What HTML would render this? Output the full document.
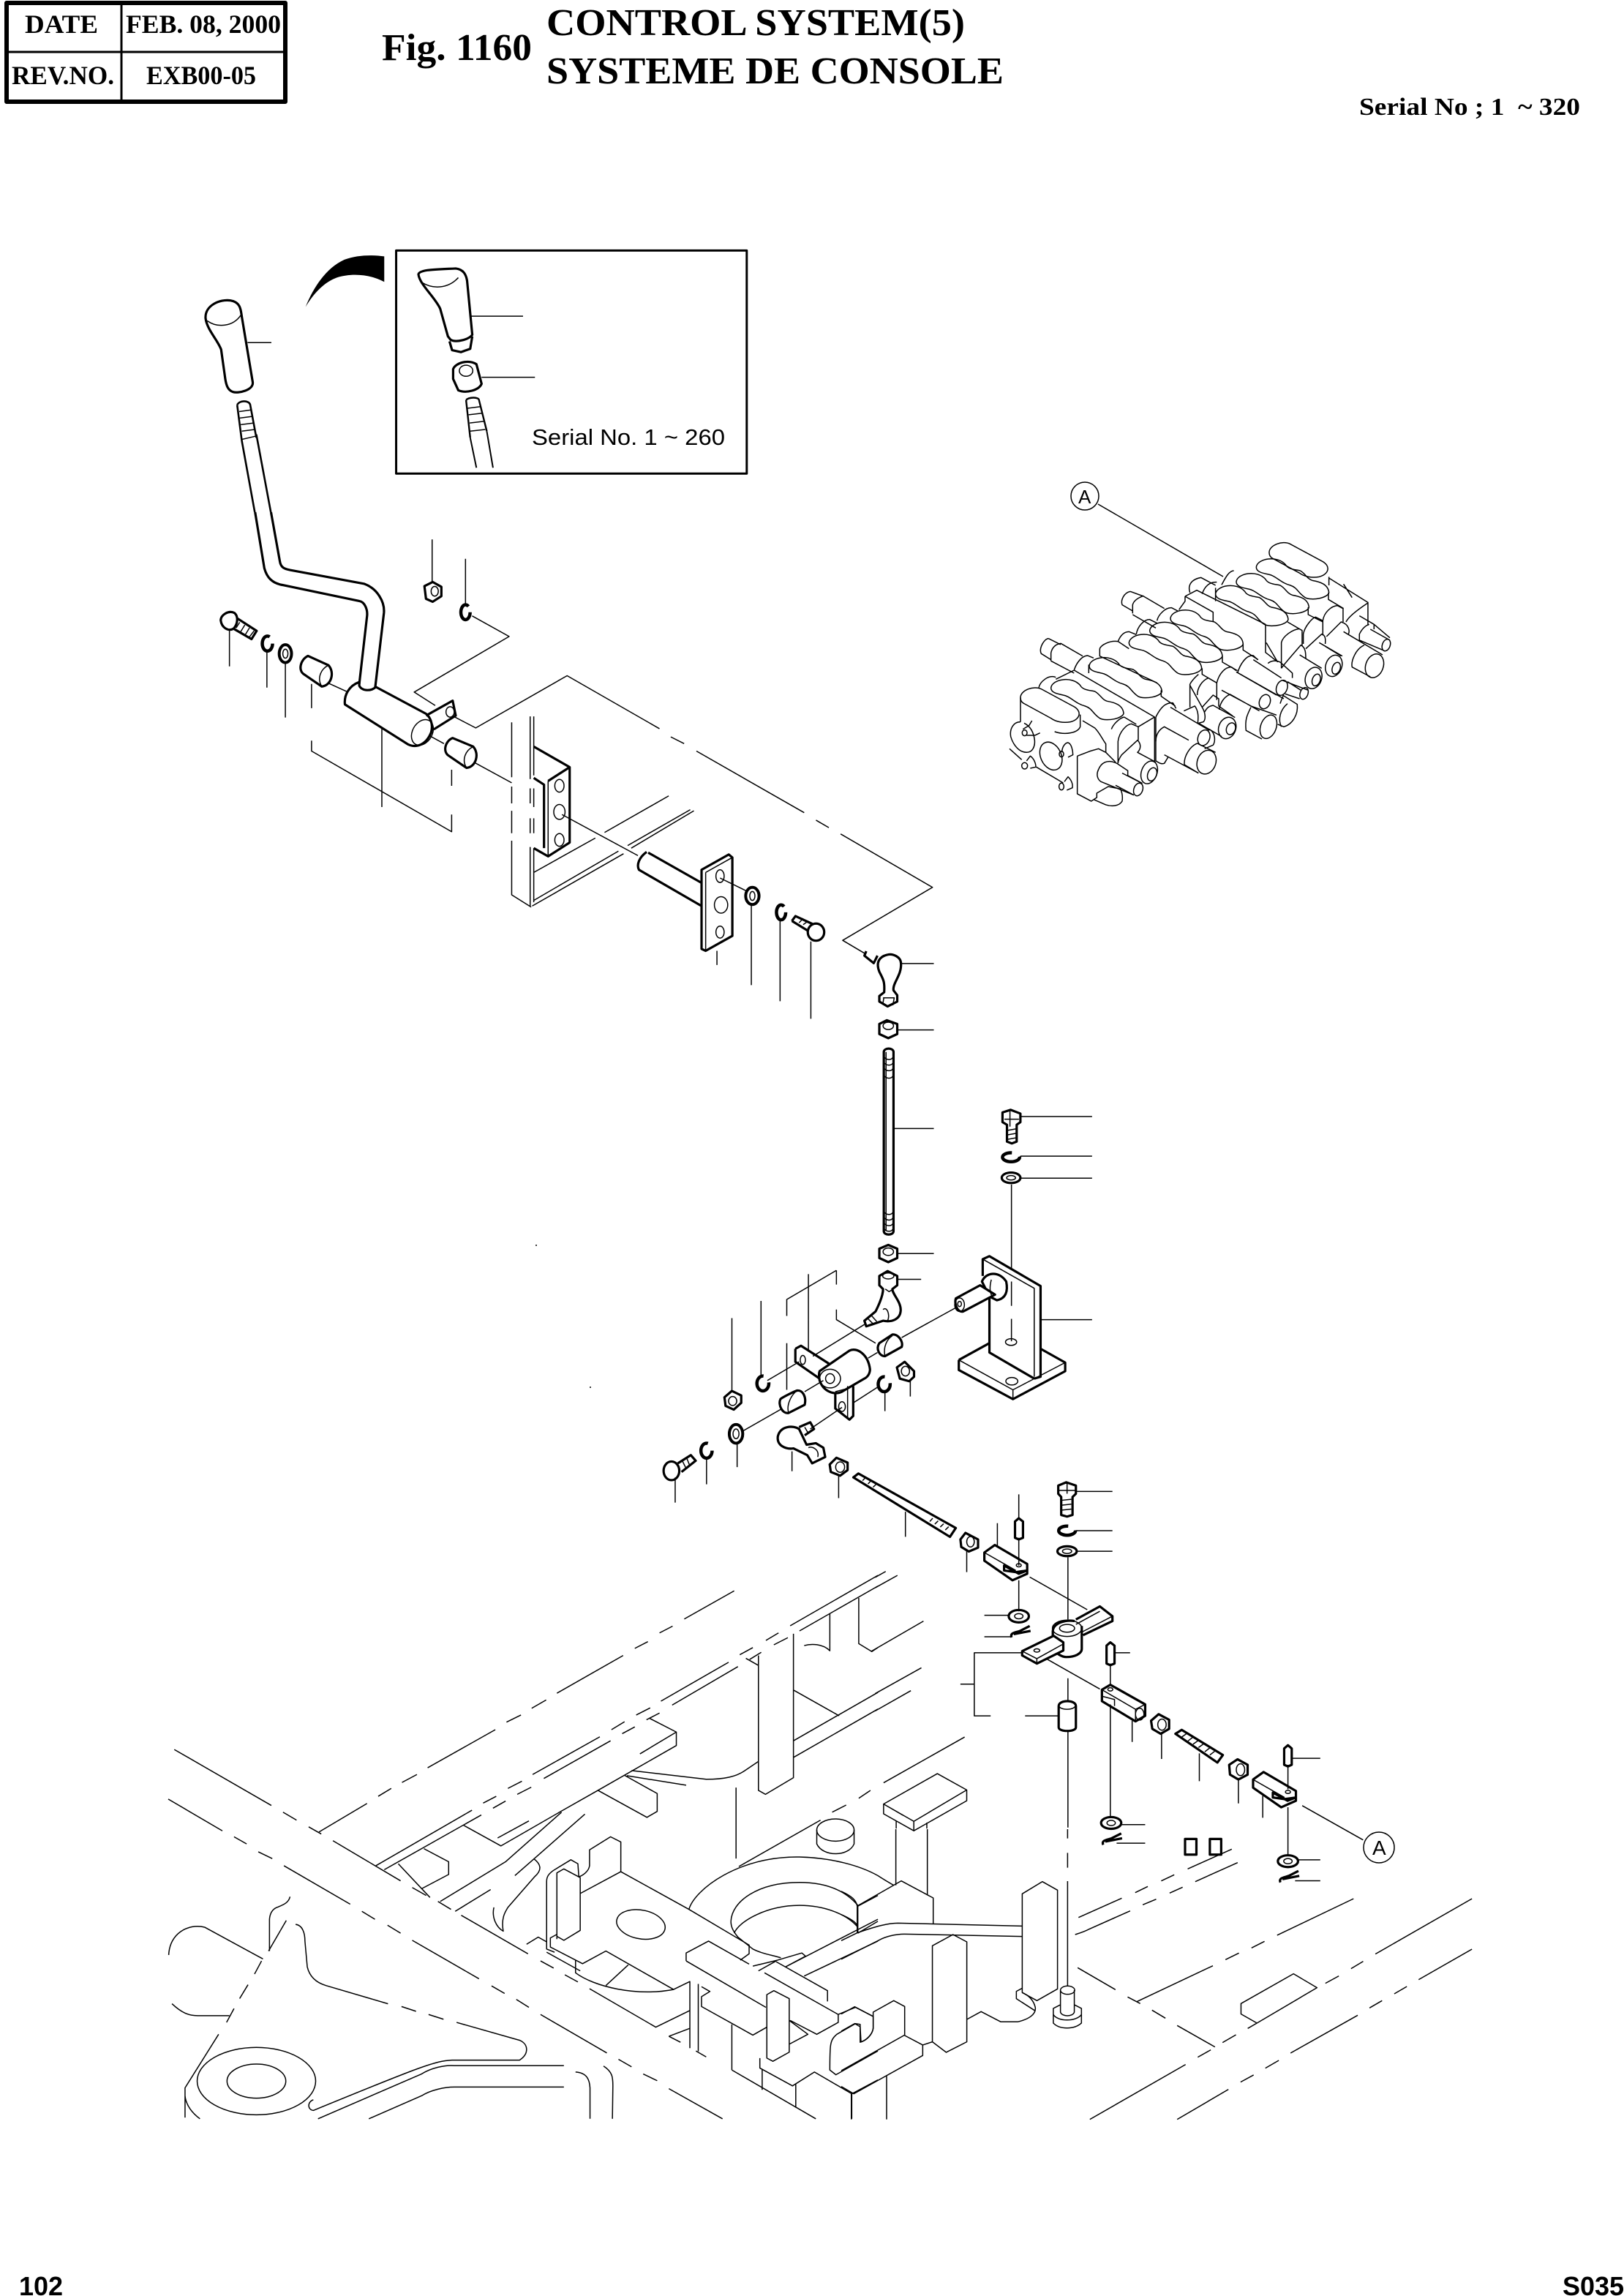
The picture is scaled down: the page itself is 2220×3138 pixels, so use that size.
<!DOCTYPE html>
<html><head><meta charset="utf-8"><style>
html,body{margin:0;padding:0;background:#fff}
svg{display:block}
svg *{vector-effect:non-scaling-stroke}
g,path,ellipse,rect{fill:none;stroke:#000;stroke-width:1.5;stroke-linecap:butt;stroke-linejoin:round}
.k,.k *{stroke-width:3.2}
.k .c{stroke-width:4.5;stroke-dasharray:44 12}
.k .w{stroke-width:4}
.f{fill:#fff}
.b{fill:#000;stroke:none}
text{stroke:none;fill:#000}
.s{font-family:"Liberation Serif",serif;font-weight:bold}
.a{font-family:"Liberation Sans",sans-serif}
</style></head><body>
<svg xmlns="http://www.w3.org/2000/svg" width="2220" height="3138" viewBox="0 0 2220 3138">
<rect x="0" y="0" width="2220" height="3138" style="fill:#fff;stroke:none"/>

<!-- background frame, left -->
<g transform="translate(200,2100) scale(.6378,.5421)">
<path d="M370,745L473,673M497,655L525,635M548,620L580,600M603,583L748,487M772,468L803,450M826,433L857,412M880,395L1022,300M1047,282L1075,265M1100,243L1128,226M1153,208L1260,137"/>
<path d="M1380,225L1568,98M1400,238L1568,125"/>
<path d="M492,830L698,690M722,672L750,655M775,635L805,617M828,600L972,505M997,487L1025,467M1050,450L1080,432M1103,415L1248,317M1272,298L1300,280M1328,262L1355,243"/>
<path d="M510,840L718,702M743,685L770,667M795,650L825,632M852,610L995,515M1020,497L1047,480M1072,462L1100,445M1127,425L1268,328M1293,310L1318,292M1345,273L1375,255"/>
<path d="M1078,458L1136,493V527L968,640L890,692L760,780L680,728M1136,493L1058,548M753,760L820,717"/>
<path d="M1040,590L1200,612C1240,612 1265,605 1283,590L1312,567M1030,603L1157,627M1025,602L1095,648V693L1073,708L968,640"/>
<path d="M940,700L790,855M890,695L770,820L630,920M738,890L662,945M595,787L648,820V852L590,888M540,825L608,910"/>
<path d="M60,537L268,678M293,695L322,715M348,732L375,750M400,767L545,868M570,885L600,905M625,920L653,940M675,955L818,1052M845,1070L873,1088M897,1105L925,1123M950,1140L1092,1237L1165,1195M1120,1260L1165,1240M1120,1260L1145,1275M1178,1297L1200,1312M1255,1345L1435,1468"/>
<path d="M47,662L163,742M188,757L215,775M240,795L270,812M295,830L437,927M462,945L490,965M517,980L545,1000M570,1018L713,1115M740,1133L768,1152M793,1167L820,1187M845,1205L987,1302M1012,1318L1040,1337M1065,1355L1095,1372M1120,1392L1235,1468"/>
<path d="M308,908C305,925 290,930 280,935C270,940 265,950 264,965V1045"/>
<path d="M300,968L262,1045M247,1070L232,1103M218,1130L200,1165M188,1190L172,1225M155,1255L83,1390V1465M83,1410C85,1435 100,1455 115,1468"/>
<path d="M48,1055C50,1000 90,975 125,985L250,1065M55,1178C75,1200 90,1208 110,1208H178"/>
<path d="M320,978C335,980 340,1000 340,1020L345,1085C350,1110 365,1125 385,1132L518,1178M547,1185L578,1197M605,1205L637,1217M665,1225L800,1270C820,1280 820,1305 800,1320H655C620,1322 590,1335 358,1447C345,1445 345,1425 358,1420"/>
<ellipse cx="236" cy="1373" rx="127" ry="85"/>
<ellipse cx="236" cy="1373" rx="63" ry="43"/>
<path d="M368,1468L590,1355C610,1340 640,1332 660,1334H895M477,1468L590,1410C610,1395 640,1388 660,1388H895"/>
<path d="M920,1350C945,1352 950,1370 951,1390V1468M980,1335C1000,1350 1000,1365 1000,1385L999,1468"/>
<path d="M745,935C740,960 750,985 765,995C760,960 770,945 775,935L832,858C850,840 845,825 830,812"/>
<path d="M1017,845V770L995,757L950,790V830C948,845 935,855 927,858L925,825L910,815L878,838C860,850 858,860 858,870V1040L875,1048"/>
<path d="M880,1015V848L895,838L930,860V993L895,1018L880,1008"/>
<path d="M880,1003L866,1012V1035L935,1077L985,1045L1130,1142"/>
<path d="M930,900L1017,845L1163,940L1292,1030V1052L1273,1068"/>
<path d="M1163,940C1175,890 1270,805 1400,808C1470,810 1530,830 1568,855"/>
<path d="M1270,832L1445,715M1470,695L1500,677M1527,660L1552,640"/>
<ellipse cx="1477" cy="740" rx="40" ry="28"/>
<path d="M1437,740V775C1450,808 1505,808 1517,775V740"/>
<path d="M1253,970C1255,920 1310,872 1400,872C1460,872 1500,895 1525,930M1260,1000C1270,970 1330,930 1400,930C1450,930 1500,950 1525,985M1253,970C1253,985 1258,995 1268,1010L1300,1040C1320,1052 1340,1055 1360,1062M1525,930V1000M1568,905L1525,932M1525,1000L1568,970"/>
<ellipse cx="1060" cy="978" rx="53" ry="36" transform="rotate(15 1060 978)"/>
<path d="M815,1028L840,1010L858,1022M858,1048L930,1095M920,1068V1100C960,1135 1050,1160 1130,1142L1165,1122V1290M1033,1080L985,1132M1183,1128V1298M1190,1135L1208,1147L1190,1160V1185L1300,1257L1330,1237"/>
<path d="M1157,1070V1050L1205,1020L1292,1078M1157,1070L1328,1187M1380,1220L1437,1255L1483,1225V1205L1325,1100M1350,1072L1460,1145V1172"/>
<path d="M1330,1155L1345,1145L1378,1165V1300L1343,1323L1330,1315Z"/>
<path d="M1378,1220L1418,1255L1378,1280M1300,1083L1353,1068L1405,1050L1413,1058L1370,1085M1312,1095L1350,1070M1410,1108L1568,1020M1370,1085L1568,965"/>
<path d="M1483,1205L1520,1187L1558,1210V1240C1555,1260 1540,1272 1530,1275V1230L1520,1228L1480,1255C1465,1270 1465,1280 1465,1345L1478,1357L1568,1297"/>
<path d="M1315,1315V1340L1385,1385L1432,1350L1512,1405L1568,1370M1320,1342V1395M1392,1380V1440M1255,1230V1345M1512,1405V1468"/>
<path d="M1264,633V812M1312,300V640L1327,650L1387,608V245M1285,307L1312,325M1387,387L1485,452M1387,515L1568,393M1387,557L1568,435"/>
<path d="M1465,195V288C1450,270 1425,270 1410,275M1527,155V270L1555,290L1568,280"/>
</g>

<!-- background frame, right -->
<g transform="translate(1150,2500) scale(.574,.3333)">
<path d="M87,190C100,205 115,220 125,230M0,255C25,275 35,290 38,315M0,350C20,365 35,380 38,395"/>
<path d="M130,0V230M205,0V270"/>
<path d="M38,315L143,212L219,282V388M38,315V425"/>
<path d="M0,457L38,425C80,400 110,385 135,385L431,397M0,533L90,455C105,440 130,430 150,430L431,440"/>
<path d="M431,265L479,215L515,250V655L466,703L431,670Z"/>
<path d="M217,478L266,432L299,462V872L250,915L217,872Z"/>
<path d="M299,780L333,748L380,790H420C445,780 465,760 462,730C458,700 445,680 431,670M431,652L417,665V695L462,745"/>
<path d="M539,0V38M539,97V158M539,213V645"/>
<ellipse cx="539" cy="660" rx="17" ry="17"/>
<path d="M522,660V750C525,770 552,770 555,750V660M522,720L505,735V795C520,822 555,822 572,795V735L555,720M505,760C515,790 560,790 572,760"/>
<path d="M565,362L668,283M700,260L730,235M762,212L793,187M825,163L930,82M557,432C570,425 580,420 590,410L688,335M718,310L750,287M782,262L813,238M843,215L944,137"/>
<path d="M563,568L653,658M682,688L712,715M740,742L772,775M800,805L890,893"/>
<path d="M703,708L885,560M915,535L947,508M977,487L1008,460M1038,435L1220,285"/>
<path d="M592,1190L820,965M849,935L880,905M908,875L940,843M968,817L990,795L952,758V715L1077,593L1133,650L990,795M1153,632L1185,602M1214,572L1243,542M1272,512L1502,285"/>
<path d="M800,1190L922,1067M951,1037L982,1008M1010,980L1042,948M1070,918L1230,763M1258,733L1288,703M1317,675L1347,645M1375,617L1502,492"/>
<path d="M0,990L150,845L194,885V928L30,1085L0,1055M194,885L217,872M108,1012V1190M24,1085V1190"/>
<path d="M151,845V727L125,703L76,750V815C75,840 60,865 47,872L45,810L32,797L0,828M0,758L32,728L76,768"/>
</g>
<g transform="translate(1050,1950) scale(.574,.4464)">
<path d="M255,461L280,443M255,493L308,455M245,688L370,595M255,817L365,738M255,870L340,808M275,1090L468,950"/>
<path d="M275,1155L403,1062L473,1112V1145L347,1237L275,1185ZM275,1155L347,1208L473,1112M347,1208V1237M275,1155L322,1190M305,1207V1230M378,1212V1230"/>
</g>

<!-- header -->
<rect x="9" y="4" width="381" height="135" style="stroke-width:6"/>
<path d="M9,71H390M166,4V139" style="stroke-width:3"/>
<text class="s" x="34" y="45" font-size="36" textLength="100" lengthAdjust="spacingAndGlyphs">DATE</text>
<text class="s" x="172" y="45" font-size="36" textLength="212" lengthAdjust="spacingAndGlyphs">FEB. 08, 2000</text>
<text class="s" x="16" y="115" font-size="36" textLength="140" lengthAdjust="spacingAndGlyphs">REV.NO.</text>
<text class="s" x="200" y="115" font-size="36" textLength="150" lengthAdjust="spacingAndGlyphs">EXB00-05</text>
<text class="s" x="522" y="82" font-size="52" textLength="205" lengthAdjust="spacingAndGlyphs">Fig. 1160</text>
<text class="s" x="747" y="48" font-size="52" textLength="572" lengthAdjust="spacingAndGlyphs">CONTROL SYSTEM(5)</text>
<text class="s" x="747" y="114" font-size="52" textLength="625" lengthAdjust="spacingAndGlyphs">SYSTEME DE CONSOLE</text>
<text class="s" x="1858" y="157" font-size="34" textLength="302" lengthAdjust="spacingAndGlyphs" xml:space="preserve">Serial No ; 1  ~ 320</text>

<!-- lever top and inset -->
<g transform="scale(.7079,.4464)">
<path class="b" d="M590,940C605,880 630,820 665,795C690,780 720,780 742,785V863C715,840 680,835 650,850C625,865 605,900 590,940Z"/>
<rect x="765" y="767" width="677" height="683" style="stroke-width:3"/>
<g class="k">
<path d="M397,975C395,935 425,915 445,920C465,925 465,950 467,970L488,1170C490,1195 460,1205 450,1200C440,1195 437,1180 435,1160L427,1070C420,1040 400,1010 397,975Z"/>
<path d="M458,1240C462,1225 480,1225 483,1238L495,1340M458,1240L467,1350M467,1350L492,1568M495,1330L523,1568" style="stroke-width:2.6"/>
<path d="M808,840C810,825 840,825 880,822C895,825 900,840 902,860L912,1025C905,1040 880,1050 870,1040L865,1030L850,945C840,910 810,870 808,840Z"/>
<path d="M868,1045L873,1072L890,1078L908,1068L912,1030"/>
<path d="M875,1130C880,1110 905,1100 920,1115L930,1175C925,1195 900,1205 885,1195L875,1160Z"/>
<path d="M900,1225C905,1215 925,1215 925,1225L940,1320M900,1225L908,1340" style="stroke-width:2.4"/>
<path d="M908,1340L920,1432M940,1320L952,1432" style="stroke-width:2"/>
</g>
<path d="M400,982C420,1005 450,1000 465,965M478,1049H524M815,865C835,885 865,885 885,850M910,968H1010M930,1155H1033M462,1260L485,1255M463,1280L487,1275M465,1300L490,1295M467,1320L492,1315M468,1345L495,1335M903,1250L928,1245M905,1270L931,1265M907,1295L934,1290M908,1320L937,1315"/>
<ellipse cx="900" cy="1135" rx="13" ry="17"/>
</g>
<text class="a" x="727" y="608" font-size="31" textLength="264" lengthAdjust="spacingAndGlyphs">Serial No. 1 ~ 260</text>

<!-- lever and upper assembly -->
<g transform="translate(200,700) scale(.7015,.5102)">
<path d="M635,278L707,333L522,482L563,518M600,548L642,578L820,438L1000,580M1022,602L1048,620M1072,640L1282,805M1305,825L1330,845M1353,862L1532,1005L1357,1147L1400,1182"/>
<path d="M350,455L390,480M540,590L580,620M632,665L712,725"/>
<path d="M712,563V710M712,735V780M712,800V860M712,880V1025L750,1058M748,547V715M755,547V705M748,740V780M755,740V790M748,820V860M755,820V860M748,897V1055M755,900V1045"/>
<path d="M893,858L1018,760M755,965L875,873M938,893L1060,797M945,900L1067,800M755,1040L920,908M752,1055L930,915"/>
<g class="k">
<path d="M212,0L230,150C235,175 245,190 265,195L415,238C425,240 432,260 430,280L415,460"/>
<path d="M243,0L260,130C262,150 270,152 280,155L425,192C450,205 465,240 463,270L446,470"/>
<path class="f" d="M415,455C395,465 385,490 387,515L510,622C525,632 545,625 555,590C560,565 552,548 545,540L447,468C440,480 420,480 415,465Z"/>
<path d="M545,545L597,505L603,545L560,582"/>
<path class="f" d="M315,385L355,410C368,430 360,465 342,467L308,435C295,425 300,395 315,385Z"/>
<path class="f" d="M597,605L637,628C650,648 642,683 624,685L590,653C577,643 582,613 597,605Z"/>
<path d="M145,290C145,275 160,262 172,270C180,280 178,300 170,312C160,320 147,310 145,290Z"/>
<path d="M178,285L215,318L205,340L170,312"/>
<ellipse class="c" cx="236" cy="352" rx="10" ry="20"/>
<ellipse class="w" cx="271" cy="379" rx="12" ry="24"/>
<path d="M542,198L558,187L575,200V225L558,240L545,232Z"/>
<ellipse class="c" cx="622" cy="268" rx="9" ry="20"/>
<path d="M755,628L825,683V885L783,922L755,900M755,712L775,730V900M783,720L825,683"/>
<path d="M975,910C960,925 955,945 960,958L1082,1055M978,912L1082,993"/>
<path d="M1082,958L1135,917L1142,925V1135L1090,1175L1082,1170Z"/>
<ellipse class="w" cx="1181" cy="1028" rx="13" ry="23"/>
<ellipse class="c" cx="1237" cy="1072" rx="9" ry="20"/>
<path d="M1258,1095L1265,1082L1298,1103M1258,1095L1290,1122"/>
<ellipse cx="1305" cy="1125" rx="16" ry="23"/>
</g>
<ellipse cx="538" cy="590" rx="20" ry="35" transform="rotate(15 538 590)"/>
<ellipse cx="592" cy="535" rx="8" ry="14"/>
<path d="M355,410C340,420 332,445 342,467M637,628C622,638 614,663 624,685M182,295L175,310M192,302L184,320M201,310L193,328M210,318L201,334"/>
<ellipse cx="271" cy="379" rx="5" ry="12"/>
<ellipse cx="562" cy="212" rx="7" ry="13"/>
<path d="M783,720V922"/>
<ellipse cx="805" cy="733" rx="9" ry="17"/>
<ellipse cx="805" cy="803" rx="11" ry="20"/>
<ellipse cx="805" cy="878" rx="9" ry="17"/>
<path d="M810,810L958,920"/>
<path d="M1090,965L1142,925M1090,965V1175"/>
<ellipse cx="1118" cy="975" rx="8" ry="17"/>
<ellipse cx="1120" cy="1052" rx="13" ry="22"/>
<ellipse cx="1118" cy="1125" rx="8" ry="16"/>
<path d="M1118,980L1170,1015"/>
<ellipse cx="1181" cy="1028" rx="5" ry="12"/>
<path d="M1272,1100L1280,1088M1280,1105L1290,1095"/>
<path d="M162,315V413M235,375V470M271,405V550M322,460V525M557,73V187M622,125V245M595,690V733M459,580V790M322,612V640L595,856V810M1112,1175V1213M1179,1052V1267M1235,1095V1310M1295,1150V1357"/>
</g>

<!-- centre assembly -->
<g transform="translate(850,1300) scale(.5102)">
<g class="k">
<path d="M748,33C748,15 725,5 710,10C690,15 680,30 690,55C700,75 705,80 703,110L690,120V135L712,148L738,135V118L728,105C725,85 750,65 748,33Z"/>
<path d="M655,0L650,12L675,32L685,12"/>
<path d="M690,195L710,185L738,195V222L714,233L690,222Z"/>
<path d="M702,270C702,258 728,258 728,270V750C728,762 702,762 702,750Z"/>
<path d="M690,797L714,787L738,797V822L714,833L690,822Z"/>
<path d="M690,870L712,857L738,870V895L725,905C725,920 750,940 747,965C745,985 725,995 700,990L670,1000L655,1005L650,990L680,965C690,945 700,920 700,905L690,895Z"/>
<path d="M1020,432L1042,425L1068,435V458L1058,465V510L1045,515L1032,510V465L1020,458Z"/>
<ellipse class="c" cx="1043" cy="552" rx="23" ry="12"/>
<ellipse cx="1043" cy="607" rx="25" ry="14"/>
<path d="M967,870V825L985,817L1122,897V1140L1105,1145"/>
<path d="M985,930V1075L1105,1145M903,1095L985,1050M903,1095V1122L1048,1200L1188,1125V1102L1122,1065"/>
<path class="f" d="M965,885C975,860 1010,855 1030,885C1035,910 1030,930 1005,935L985,925Z"/>
<path class="f" d="M895,930L960,895L1000,920L915,965C900,970 890,945 895,930Z"/>
<path class="f" d="M690,1050L725,1027C740,1025 755,1045 750,1060L705,1085C690,1085 680,1065 690,1050Z"/>
<path d="M465,1065L480,1057L555,1105M465,1065V1100L530,1145"/>
<path class="f" d="M530,1125L610,1070C630,1060 660,1080 665,1120C665,1130 660,1140 650,1145L590,1180C570,1190 540,1180 530,1150C528,1140 528,1130 530,1125Z"/>
<path d="M572,1185V1225L610,1255L620,1245V1165"/>
<ellipse class="c" cx="703" cy="1160" rx="16" ry="20"/>
<path d="M737,1115L758,1100L783,1125V1140L770,1152L745,1145Z"/>
<path d="M275,1195L295,1178L320,1190V1210L300,1228L278,1218Z"/>
<ellipse class="c" cx="378" cy="1158" rx="16" ry="20"/>
<path class="f" d="M425,1200C430,1195 465,1178 470,1177C485,1175 495,1195 490,1215L447,1237C430,1240 418,1215 425,1200Z"/>
<ellipse class="w" cx="306" cy="1293" rx="18" ry="25"/>
<ellipse class="c" cx="227" cy="1338" rx="15" ry="20"/>
<path d="M150,1372L185,1350L198,1365L160,1395"/>
<ellipse cx="133" cy="1392" rx="21" ry="25"/>
<path d="M475,1280C460,1270 425,1270 418,1300C415,1325 440,1335 460,1332L497,1350L510,1372L545,1355L540,1330L520,1318L495,1322Z"/>
<path d="M475,1275L505,1262L515,1280L490,1297"/>
<path d="M557,1375L575,1357L605,1370V1390L585,1405L560,1395Z"/>
</g>
<path d="M700,125H730L726,145M702,125L700,138"/>
<ellipse cx="714" cy="200" rx="14" ry="10"/>
<path d="M708,270V750M704,285C710,292 722,292 726,285M704,300C710,307 722,307 726,300M704,315C710,322 722,322 726,315M704,335C710,342 722,342 726,335M704,700C710,707 722,707 726,700M704,715C710,722 722,722 726,715M704,730C710,737 722,737 726,730M704,745C710,752 722,752 726,745"/>
<ellipse cx="714" cy="805" rx="14" ry="10"/>
<ellipse cx="714" cy="870" rx="15" ry="8"/>
<path d="M706,905L716,912L728,905M700,960C710,950 720,975 712,990M660,985L675,1000M668,975L683,992"/>
<path d="M1025,450H1064M1040,425V470M1034,480L1056,476M1034,492L1056,488M1034,504L1056,500"/>
<ellipse cx="1043" cy="607" rx="12" ry="6"/>
<path d="M967,825L1105,903V1140"/>
<path d="M903,1095L1048,1175L1188,1102M1048,1175V1200"/>
<ellipse cx="1045" cy="1152" rx="16" ry="10"/>
<ellipse cx="1043" cy="1047" rx="15" ry="9"/>
<ellipse cx="905" cy="947" rx="13" ry="18"/>
<ellipse cx="905" cy="945" rx="5" ry="7"/>
<path d="M990,880C985,900 985,915 995,930"/>
<path d="M725,1030C710,1040 700,1060 705,1085"/>
<ellipse cx="558" cy="1145" rx="28" ry="25"/>
<ellipse cx="558" cy="1145" rx="12" ry="13"/>
<ellipse cx="485" cy="1095" rx="7" ry="12"/>
<ellipse cx="590" cy="1220" rx="9" ry="13"/>
<path d="M572,1180L610,1170M605,1165V1250"/>
<ellipse cx="760" cy="1125" rx="11" ry="13"/>
<ellipse cx="297" cy="1205" rx="11" ry="12"/>
<path d="M470,1177C455,1187 440,1215 447,1237"/>
<ellipse cx="306" cy="1293" rx="8" ry="13"/>
<path d="M162,1365L172,1385M174,1358L182,1378"/>
<path d="M500,1330C510,1325 530,1335 525,1355M490,1275L500,1292"/>
<ellipse cx="585" cy="1382" rx="12" ry="14"/>
<path d="M748,33H836M740,211H836M730,475H836M740,810H836M738,879H802M1068,443H1260M1068,549H1260M1068,608H1260M1122,987H1260"/>
<path d="M1044,625V850M1044,885V950M1044,985V1045M750,1035L895,955M575,960V987L680,1050M575,855V893M575,855L442,933V977M442,1050V1175M500,865V1070"/>
<path d="M512,1085L650,1000M390,1150L475,1100M490,1180L540,1150M325,1285L430,1225M505,1280L590,1222M620,1210L690,1165M660,1090L685,1075"/>
<path d="M295,983V1175M373,937V1135M705,1180V1232M773,1150V1193M309,1318V1382M227,1360V1428M143,1410V1477M456,1340V1393M581,1405V1465"/>
</g>

<!-- lower linkage -->
<g transform="translate(1050,1950) scale(.574,.4464)">
<g class="k">
<path d="M203,155L215,143L447,310L433,337Z"/>
<path d="M458,345L470,325L500,345V370L478,382L460,368Z"/>
<path d="M515,385L540,362L617,420V440L597,450L562,425V440L590,445L617,440V450L582,470L515,410Z"/>
<path d="M588,340V290L597,280L607,290V340L597,345Z"/>
<ellipse cx="597" cy="580" rx="24" ry="19"/>
<path d="M580,645C575,630 590,630 600,625L623,610M585,635L625,625"/>
<path d="M691,180L710,170L733,180V205L725,215V270L712,275L698,270V215L691,205Z"/>
<ellipse class="c" cx="712" cy="318" rx="20" ry="14"/>
<ellipse cx="712" cy="381" rx="23" ry="15"/>
<path d="M678,625V650C660,665 690,705 710,705C730,705 747,695 747,680V610"/>
<path d="M678,625C680,600 710,590 730,595"/>
<path d="M733,590L790,550L820,580V595L750,638"/>
<path class="f" d="M605,687L680,640L703,660V685L640,725L605,700Z"/>
<path d="M692,855C692,835 733,835 733,855V920C733,935 692,935 692,920Z"/>
<path d="M806,725V670L815,660L825,670V725L815,730Z"/>
<path d="M795,805L815,790L898,850V885L875,902L795,840Z"/>
<path d="M912,900L930,880L955,897V925L935,940L915,925Z"/>
<path d="M970,940L985,928L1083,1005L1070,1028Z"/>
<path d="M1098,1035L1118,1018L1142,1035V1065L1120,1080L1100,1065Z"/>
<path d="M1155,1080L1180,1057L1257,1115V1135L1237,1145L1202,1120V1135L1230,1140L1257,1135V1145L1222,1165L1155,1105Z"/>
<path d="M1229,1035V985L1238,975L1247,985V1035L1238,1040Z"/>
<ellipse cx="1238" cy="1330" rx="24" ry="18"/>
<path d="M1220,1395C1215,1380 1230,1380 1240,1375L1263,1360M1225,1385L1265,1375"/>
<ellipse cx="817" cy="1213" rx="24" ry="18"/>
<path d="M798,1280C793,1265 808,1265 818,1260L841,1245M803,1270L843,1260"/>
<rect x="993" y="1262" width="27" height="48"/>
<rect x="1052" y="1262" width="27" height="48"/>
</g>
<ellipse cx="482" cy="352" rx="9" ry="16"/>
<path d="M225,165L232,155M238,175L245,165M250,185L258,175M385,290L392,280M397,298L405,288M410,307L418,297M422,316L430,306"/>
<path d="M515,385L590,440M597,420V425"/>
<ellipse cx="597" cy="424" rx="6" ry="5"/>
<ellipse cx="597" cy="580" rx="10" ry="8"/>
<path d="M691,195H733M712,170V205M700,225L722,222M700,240L722,237M700,255L722,252"/>
<ellipse cx="712" cy="381" rx="11" ry="7"/>
<ellipse cx="712" cy="617" rx="35" ry="25"/>
<ellipse cx="712" cy="617" rx="18" ry="12"/>
<path d="M733,605L790,565M745,630L820,580"/>
<path d="M605,687L640,710L703,665M640,710V725"/>
<ellipse cx="640" cy="685" rx="7" ry="5"/>
<ellipse cx="712" cy="853" rx="20" ry="12"/>
<ellipse cx="815" cy="804" rx="6" ry="5"/>
<path d="M795,805L875,865L898,850M875,865V902M795,825L825,835V855"/>
<ellipse cx="885" cy="880" rx="10" ry="18"/>
<ellipse cx="938" cy="912" rx="10" ry="17"/>
<path d="M985,950L998,938M1000,962L1012,950M1012,972L1025,960M1025,982L1038,970M1040,995L1053,982M1052,1005L1065,992"/>
<ellipse cx="1125" cy="1050" rx="10" ry="18"/>
<path d="M1155,1080L1230,1135"/>
<ellipse cx="1238" cy="1118" rx="6" ry="5"/>
<ellipse cx="1238" cy="1330" rx="10" ry="8"/>
<ellipse cx="817" cy="1213" rx="10" ry="8"/>
<path d="M327,260V337M473,378V445M546,295V365M597,207V280M597,340V420M597,470V565M515,577H572M515,643H578M733,198H820M735,318H820M735,381H820M714,400V590M623,460L760,560M665,712L790,803M605,692H491V885H530M612,885H690M458,788H491M714,770V840M714,930V1227M825,692H862M815,725V790M815,850V1195M842,1218H898M830,1275H898M867,900V965M937,935V1017M1027,1000V1085M1120,1075V1153M1178,1130V1197M1245,1015H1315M1238,1035V1110M1238,1165V1315M1262,1326H1315M1255,1390H1315M1272,1160L1417,1265"/>
</g>
<ellipse cx="1885" cy="2525" rx="21" ry="21"/>
<text class="a" x="1876" y="2535" font-size="28">A</text>
<path d="M732,1702h2M806,1896h2"/>

<!-- valve -->
<g transform="translate(1380,780) scale(.3333)">
<path id="sta" d="M45,520C45,490 100,470 130,485L260,555C300,575 290,610 250,620C220,625 190,620 170,605L60,545C50,540 45,530 45,520Z"/>
<path id="wav" d="M170,480C175,445 255,430 290,470C300,490 330,490 350,495C370,505 380,530 400,535C430,540 465,550 468,585C465,605 400,620 370,605C340,585 340,565 310,555C270,545 250,515 220,510C195,505 170,500 170,480Z"/>
<use href="#wav" x="157" y="-90"/>
<use href="#wav" x="320" y="-185"/>
<use href="#wav" x="405" y="-235"/>
<use href="#wav" x="490" y="-285"/>
<use href="#wav" x="675" y="-385"/>
<use href="#wav" x="760" y="-435"/>
<use href="#wav" x="842" y="-495"/>
<use href="#sta" x="1020" y="-595"/>
<path d="M45,520V620M290,590V640C280,665 230,675 185,660M300,615L350,645C370,665 380,690 395,710V745"/>
<path d="M45,620C15,620 0,650 5,680C15,715 40,745 70,745C95,745 105,720 103,695C100,670 90,640 60,625M55,650L80,635L92,615M70,675H105L125,665"/>
<ellipse cx="62" cy="665" rx="10" ry="12"/>
<ellipse cx="170" cy="760" rx="42" ry="60" transform="rotate(-25 170 760)"/>
<path d="M215,745C215,720 230,705 240,705C255,710 260,740 260,755L240,765"/>
<ellipse cx="213" cy="752" rx="9" ry="12"/>
<ellipse cx="62" cy="800" rx="12" ry="13"/>
<path d="M70,780L85,760C100,770 108,790 108,805L85,810M0,730L50,775M110,805L220,870"/>
<ellipse cx="213" cy="885" rx="10" ry="14"/>
<path d="M225,865L240,845C255,860 260,875 258,890L235,900"/>
<path d="M278,760V915L335,945L358,930V912L405,885L455,895C462,910 465,925 462,945C450,965 420,968 395,960L345,938M278,760L330,740L365,730L395,745L435,785"/>
<path d="M440,790C400,770 375,790 365,815C355,835 360,855 375,865L510,920M440,790L485,820V840L545,872M462,830L540,870M435,880L510,920"/>
<ellipse cx="528" cy="897" rx="18" ry="27" transform="rotate(20 528 897)"/>
<ellipse cx="573" cy="827" rx="32" ry="48" transform="rotate(20 573 827)"/>
<ellipse cx="585" cy="835" rx="18" ry="28" transform="rotate(20 585 835)"/>
<path d="M445,790C445,780 450,770 460,755L525,695C540,710 540,730 525,745L600,785M445,790V700C450,660 480,630 500,628L528,640V695M528,640L595,600"/>
<path d="M265,408L595,600V780M600,600V780M120,480C125,455 160,425 190,437M190,445L265,408M265,408C270,390 290,350 320,348L345,358"/>
<path d="M170,370V338C175,310 195,300 210,298L300,350M170,370L265,420M160,278C140,280 120,320 130,340L170,365M160,278L210,303M325,385V420M470,600C450,605 425,630 418,650M470,600L520,630"/>
<path d="M370,320C375,305 410,285 445,290L490,320M370,320V350L605,460M622,490V515L680,555M740,465V560M600,600C620,560 640,540 670,542L683,565"/>
<path d="M660,560L820,655M600,700C600,670 615,650 635,640L735,695M635,755L775,830M600,780C610,785 620,795 635,790L650,765"/>
<ellipse cx="797" cy="685" rx="24" ry="33" transform="rotate(20 797 685)"/>
<path d="M820,650C845,665 845,700 835,715L800,730M770,708C740,720 715,760 717,795L775,830M770,708L845,745"/>
<ellipse cx="808" cy="785" rx="38" ry="50" transform="rotate(20 808 785)"/>
<path d="M790,400V425L850,460V530M740,465C755,440 770,430 775,425M770,510C770,480 790,450 815,440L850,460M740,470L790,560C805,585 805,610 795,620L775,625M790,560L835,510L858,525V555L915,595M715,575L760,555C775,575 775,600 772,625"/>
<ellipse cx="893" cy="645" rx="35" ry="45" transform="rotate(20 893 645)"/>
<ellipse cx="908" cy="648" rx="18" ry="25" transform="rotate(20 908 648)"/>
<path d="M800,580C810,560 820,555 835,552L925,602M775,625L870,680"/>
<ellipse cx="1062" cy="640" rx="32" ry="50" transform="rotate(20 1062 640)"/>
<path d="M990,560C975,590 965,610 970,655L1035,690M990,555L1095,592M870,490L1000,560M860,570C865,535 885,515 905,507L1025,575"/>
<ellipse cx="1047" cy="537" rx="22" ry="30" transform="rotate(20 1047 537)"/>
<path d="M1120,510L1180,548C1185,590 1160,630 1125,640L1100,630M1110,545C1115,530 1120,515 1125,510M1140,545C1110,570 1100,610 1115,640"/>
<path d="M850,460C860,420 885,395 910,395L930,410M930,415L1125,525M935,420C945,385 970,345 1000,348L1018,365M1000,365L1115,440M930,415L1095,510"/>
<ellipse cx="1117" cy="480" rx="22" ry="32" transform="rotate(20 1117 480)"/>
<path d="M873,350V375L935,410M958,300V325L1020,365"/>
<path d="M720,105L835,170V210M720,105V125L695,160M720,105L768,80L1050,220M845,125V70"/>
<path d="M495,85C470,90 455,120 462,140L505,165M495,85L550,105L635,155M505,175V140C510,120 530,110 550,103M505,180L600,235"/>
<path d="M605,205C610,180 640,150 665,152L690,165M520,260C525,230 550,200 575,200L605,215M445,290C455,265 470,250 490,250L520,262"/>
<path d="M740,90C730,60 745,35 785,28L845,60M790,95C800,65 820,45 850,47M870,58C885,30 900,0 920,0"/>
<path d="M1050,220V335L1095,370M1053,295L1100,375M1140,210L1200,245V310M1115,400V295C1120,270 1160,240 1190,238M1115,400C1125,385 1160,345 1195,305C1215,315 1215,340 1215,360M1205,300V260C1210,230 1240,195 1255,190L1285,205V265M1215,320L1280,260C1300,265 1295,290 1295,300M1225,150V180L1285,210M1285,265V205C1290,170 1320,145 1345,143L1368,155V210M1300,270L1360,210C1395,220 1395,250 1390,260"/>
<path d="M1310,25V60M1310,30L1470,130V225M1380,210C1390,190 1420,165 1470,132M1370,55L1405,110M1308,90V118L1370,155"/>
<path d="M1495,220L1560,275M1435,185L1495,220V240M1435,290V260C1445,240 1460,225 1475,220M1480,240L1560,285M1435,285L1530,325M1370,250L1530,345M1455,305C1420,320 1400,370 1405,395L1480,435"/>
<ellipse cx="1545" cy="305" rx="16" ry="25" transform="rotate(20 1545 305)"/>
<ellipse cx="1497" cy="390" rx="36" ry="50" transform="rotate(20 1497 390)"/>
<ellipse cx="1330" cy="390" rx="33" ry="45" transform="rotate(20 1330 390)"/>
<ellipse cx="1340" cy="400" rx="16" ry="25" transform="rotate(20 1340 400)"/>
<ellipse cx="1247" cy="440" rx="33" ry="45" transform="rotate(20 1247 440)"/>
<ellipse cx="1258" cy="448" rx="16" ry="25" transform="rotate(20 1258 448)"/>
<ellipse cx="1208" cy="503" rx="16" ry="25" transform="rotate(20 1208 503)"/>
<path d="M1270,295L1365,350M1190,345L1280,400M1295,310L1360,350M1060,380C1070,370 1090,365 1110,375L1160,420V440M1120,450L1225,490M1140,455L1195,490M1130,505L1190,525"/>
</g>
<ellipse cx="1483" cy="678" rx="19" ry="19"/>
<text class="a" x="1474" y="688" font-size="26">A</text>
<path d="M1501,689L1672,788"/>

<text class="a" font-weight="bold" x="26" y="3137" font-size="36">102</text>
<text class="a" font-weight="bold" x="2136" y="3137" font-size="36">S035</text>
</svg>
</body></html>
